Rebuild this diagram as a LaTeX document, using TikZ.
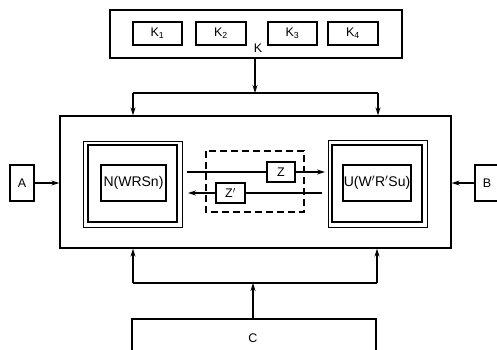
\documentclass[tikz,border=0pt]{standalone}
\usepackage{fontspec}
\setmainfont{Liberation Sans}
\usetikzlibrary{arrows.meta}
\tikzset{
  blk/.style={draw, line width=1.3pt, inner sep=0pt},
  frm/.style={draw, line width=0.8pt, inner sep=0pt},
  arr/.style={line width=1.2pt, -{Stealth[length=8pt,width=5pt]}},
  ln/.style={line width=1.2pt},
  lbl/.style={font=\fontsize{12.5}{14}\selectfont},
  big/.style={font=\fontsize{14}{16}\selectfont}
}
\begin{document}
\begin{tikzpicture}[x=1pt,y=-1pt]
\useasboundingbox (0,0) rectangle (497,349);
% K block
\node[blk, minimum width=292pt, minimum height=48pt] (K) at (256,34) {};
\node[blk, minimum width=49pt, minimum height=23pt, lbl] (k1) at (157.5,33.5) {K\textsubscript{1}};
\node[blk, minimum width=50pt, minimum height=23pt, lbl] (k2) at (221,33.5) {K\textsubscript{2}};
\node[blk, minimum width=49pt, minimum height=23pt, lbl] (k3) at (292.5,33.5) {K\textsubscript{3}};
\node[blk, minimum width=50pt, minimum height=23pt, lbl] (k4) at (353,33.5) {K\textsubscript{4}};
\node[lbl] (klabel) at (258,48) {K};
% main block
\node[blk, minimum width=391pt, minimum height=132pt] (main) at (255.5,182) {};
\node[blk, minimum width=24pt, minimum height=36pt, lbl] (A) at (22,183) {A};
\node[blk, minimum width=24pt, minimum height=36pt, lbl] (B) at (487,183) {B};
% N
\node[frm, minimum width=99pt, minimum height=86pt] (No) at (132.5,184) {};
\node[blk, line width=1.8pt, minimum width=89pt, minimum height=77pt] (Ni) at (132.5,183.5) {};
\node[blk, minimum width=65pt, minimum height=36pt, big] (N) at (133.5,183) {N(WRSn)};
% U
\node[frm, minimum width=99pt, minimum height=87pt] (Uo) at (377.5,183.5) {};
\node[blk, line width=1.8pt, minimum width=90pt, minimum height=77pt] (Ui) at (377,183.5) {};
\node[blk, minimum width=68pt, minimum height=36pt, big] (U) at (377,183) {U(W$'$R$'$Su)};
% Z
\draw[line width=1.3pt, dash pattern=on 7pt off 4pt] (206,151) rectangle (304,212);
\node[blk, minimum width=28pt, minimum height=20pt, lbl] (Z) at (281,172) {Z};
\node[blk, minimum width=29pt, minimum height=20pt, lbl] (Zb) at (230.5,193) {Z$'$};
\coordinate (zs) at (187,172);
\coordinate (ze) at (325,172);
\coordinate (ws) at (322,193);
\coordinate (we) at (188,193);
\draw[ln] (zs) -- (Z.west);
\draw[arr] (Z.east) -- (ze);
\draw[ln] (ws) -- (Zb.east);
\draw[arr] (Zb.west) -- (we);
% side inputs
\draw[arr] (A.east) -- (main.west |- A.east);
\draw[arr] (B.west) -- (main.east |- B.west);
% K distribution
\coordinate (kd) at (255,93);
\coordinate (kl) at (133,93);
\coordinate (kr) at (378,93);
\draw[arr] (K.south -| kd) -- (kd);
\draw[ln] (kl) -- (kr);
\draw[arr] (kl) -- (main.north -| kl);
\draw[arr] (kr) -- (main.north -| kr);
% C block
\node[blk, minimum width=244pt, minimum height=60pt] (C) at (254,349) {};
\node[lbl] (clabel) at (253,338) {C};
\coordinate (cd) at (253,283);
\coordinate (cl) at (133,283);
\coordinate (cr) at (377,283);
\draw[arr] (C.north -| cd) -- (cd);
\draw[ln] (cl) -- (cr);
\draw[arr] (cl) -- (main.south -| cl);
\draw[arr] (cr) -- (main.south -| cr);
\end{tikzpicture}
\end{document}
